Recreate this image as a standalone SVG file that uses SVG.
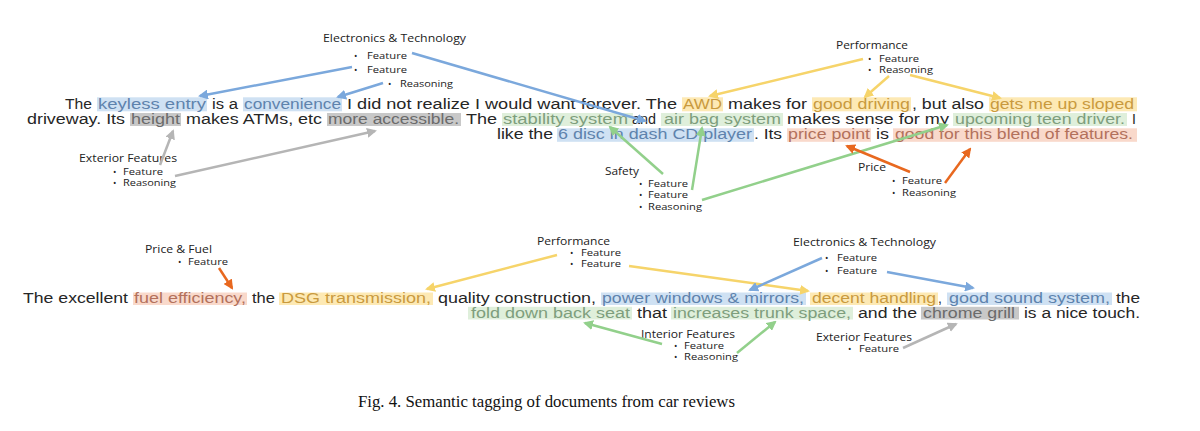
<svg xmlns="http://www.w3.org/2000/svg" width="1200" height="431" viewBox="0 0 1200 431">
<style>
.t{font-family:"Liberation Sans",Arial,sans-serif;font-size:14px;fill:#262626}
.tb{fill:#5e83ad}.tg{fill:#6b6b6b}.ty{fill:#c99a3e}.tn{fill:#7e9e7d}.ts{fill:#b3715c}
.hb{fill:#cfe1f3}.hg{fill:#c8c8c8}.hy{fill:#fde9b4}.hn{fill:#dfefdb}.hs{fill:#f9d9cb}
.lt{font-family:"Open Sans","Noto Sans",sans-serif;font-size:10.5px;fill:#222}
.li{font-family:"Open Sans","Noto Sans",sans-serif;font-size:9px;fill:#222}
.c{fill:none;stroke-width:2.5}
.cb{stroke:#7ba8dc}.cg{stroke:#b5b5b5}.cy{stroke:#f6d46a}.cn{stroke:#92d08b}.co{stroke:#e8681f}
.cap{font-family:"Liberation Serif","Times New Roman",serif;font-size:16px;fill:#111}
</style>
<defs>
<marker id="mb" viewBox="0 0 10 10" refX="8" refY="5" markerWidth="4" markerHeight="4" orient="auto"><path d="M0,0L10,5L0,10z" fill="#7ba8dc"/></marker>
<marker id="mg" viewBox="0 0 10 10" refX="8" refY="5" markerWidth="4" markerHeight="4" orient="auto"><path d="M0,0L10,5L0,10z" fill="#b5b5b5"/></marker>
<marker id="my" viewBox="0 0 10 10" refX="8" refY="5" markerWidth="4" markerHeight="4" orient="auto"><path d="M0,0L10,5L0,10z" fill="#f6d46a"/></marker>
<marker id="mn" viewBox="0 0 10 10" refX="8" refY="5" markerWidth="4" markerHeight="4" orient="auto"><path d="M0,0L10,5L0,10z" fill="#92d08b"/></marker>
<marker id="mo" viewBox="0 0 10 10" refX="8" refY="5" markerWidth="4" markerHeight="4" orient="auto"><path d="M0,0L10,5L0,10z" fill="#e8681f"/></marker>
</defs>
<rect width="1200" height="431" fill="#fff"/>

<g id="review-1">
<rect class="hb" x="97" y="97.3" width="110" height="14"/>
<rect class="hb" x="243" y="97.3" width="99" height="14"/>
<rect class="hy" x="682" y="97.3" width="41" height="14"/>
<rect class="hy" x="812" y="97.3" width="99" height="14"/>
<rect class="hy" x="989" y="97.3" width="148" height="14"/>
<rect class="hg" x="130" y="113" width="51" height="13"/>
<rect class="hg" x="327" y="113" width="134" height="13"/>
<rect class="hn" x="502" y="113" width="131" height="13"/>
<rect class="hn" x="661" y="113" width="122" height="13"/>
<rect class="hn" x="953" y="113" width="174" height="13"/>
<rect class="hb" x="557" y="128.3" width="197" height="13.5"/>
<rect class="hs" x="787" y="128.3" width="84" height="13.5"/>
<rect class="hs" x="893" y="128.3" width="244" height="13.5"/>
<text class="t" x="65" y="108.7" textLength="27" lengthAdjust="spacingAndGlyphs">The</text>
<text class="t tb" x="98" y="108.7" textLength="108" lengthAdjust="spacingAndGlyphs">keyless entry</text>
<text class="t" x="212" y="108.7" textLength="26" lengthAdjust="spacingAndGlyphs">is a</text>
<text class="t tb" x="244" y="108.7" textLength="97" lengthAdjust="spacingAndGlyphs">convenience</text>
<text class="t" x="347" y="108.7" textLength="330" lengthAdjust="spacingAndGlyphs">I did not realize I would want forever. The</text>
<text class="t ty" x="683" y="108.7" textLength="39" lengthAdjust="spacingAndGlyphs">AWD</text>
<text class="t" x="728" y="108.7" textLength="79" lengthAdjust="spacingAndGlyphs">makes for</text>
<text class="t ty" x="813" y="108.7" textLength="97" lengthAdjust="spacingAndGlyphs">good driving</text>
<text class="t" x="912" y="108.7" textLength="72" lengthAdjust="spacingAndGlyphs">, but also</text>
<text class="t ty" x="990" y="108.7" textLength="144" lengthAdjust="spacingAndGlyphs">gets me up sloped</text>
<text class="t" x="27" y="124" textLength="98" lengthAdjust="spacingAndGlyphs">driveway. Its</text>
<text class="t tg" x="131" y="124" textLength="49" lengthAdjust="spacingAndGlyphs">height</text>
<text class="t" x="186" y="124" textLength="136" lengthAdjust="spacingAndGlyphs">makes ATMs, etc</text>
<text class="t tg" x="328" y="124" textLength="131" lengthAdjust="spacingAndGlyphs">more accessible.</text>
<text class="t" x="466" y="124" textLength="31" lengthAdjust="spacingAndGlyphs">The</text>
<text class="t tn" x="503" y="124" textLength="125" lengthAdjust="spacingAndGlyphs">stability system</text>
<text class="t" x="632" y="124" textLength="24" lengthAdjust="spacingAndGlyphs">and</text>
<text class="t tn" x="664" y="124" textLength="117" lengthAdjust="spacingAndGlyphs">air bag system</text>
<text class="t" x="787" y="124" textLength="162" lengthAdjust="spacingAndGlyphs">makes sense for my</text>
<text class="t tn" x="955" y="124" textLength="170" lengthAdjust="spacingAndGlyphs">upcoming teen driver.</text>
<text class="t" x="1132" y="124">I</text>
<text class="t" x="497" y="139.3" textLength="56" lengthAdjust="spacingAndGlyphs">like the</text>
<text class="t tb" x="558" y="139.3" textLength="194" lengthAdjust="spacingAndGlyphs">6 disc in dash CD player</text>
<text class="t" x="754" y="139.3" textLength="28" lengthAdjust="spacingAndGlyphs">. Its</text>
<text class="t ts" x="788" y="139.3" textLength="82" lengthAdjust="spacingAndGlyphs">price point</text>
<text class="t" x="876" y="139.3" textLength="13" lengthAdjust="spacingAndGlyphs">is</text>
<text class="t ts" x="895" y="139.3" textLength="238" lengthAdjust="spacingAndGlyphs">good for this blend of features.</text>
</g>

<g id="review-2">
<rect class="hs" x="133" y="292.5" width="114" height="12.5"/>
<rect class="hy" x="279" y="292.5" width="154" height="12.5"/>
<rect class="hb" x="601" y="292.5" width="205" height="12.5"/>
<rect class="hy" x="810" y="292.5" width="128" height="12.5"/>
<rect class="hb" x="947" y="292.5" width="165" height="12.5"/>
<rect class="hn" x="468" y="306.8" width="164" height="12.7"/>
<rect class="hn" x="671" y="306.8" width="182" height="12.7"/>
<rect class="hg" x="921" y="306.8" width="98" height="12.7"/>
<text class="t" x="23" y="302.7" textLength="105" lengthAdjust="spacingAndGlyphs">The excellent</text>
<text class="t ts" x="134" y="302.7" textLength="112" lengthAdjust="spacingAndGlyphs">fuel efficiency,</text>
<text class="t" x="252" y="302.7" textLength="23" lengthAdjust="spacingAndGlyphs">the</text>
<text class="t ty" x="281" y="302.7" textLength="150" lengthAdjust="spacingAndGlyphs">DSG transmission,</text>
<text class="t" x="438" y="302.7" textLength="158" lengthAdjust="spacingAndGlyphs">quality construction,</text>
<text class="t tb" x="602" y="302.7" textLength="202" lengthAdjust="spacingAndGlyphs">power windows &amp; mirrors,</text>
<text class="t ty" x="812" y="302.7" textLength="124" lengthAdjust="spacingAndGlyphs">decent handling</text>
<text class="t" x="938" y="302.7">,</text>
<text class="t tb" x="949" y="302.7" textLength="161" lengthAdjust="spacingAndGlyphs">good sound system,</text>
<text class="t" x="1116" y="302.7" textLength="24" lengthAdjust="spacingAndGlyphs">the</text>
<text class="t tn" x="471" y="317.7" textLength="159" lengthAdjust="spacingAndGlyphs">fold down back seat</text>
<text class="t" x="637" y="317.7" textLength="30" lengthAdjust="spacingAndGlyphs">that</text>
<text class="t tn" x="673" y="317.7" textLength="178" lengthAdjust="spacingAndGlyphs">increases trunk space,</text>
<text class="t" x="858" y="317.7" textLength="59" lengthAdjust="spacingAndGlyphs">and the</text>
<text class="t tg" x="923" y="317.7" textLength="92" lengthAdjust="spacingAndGlyphs">chrome grill</text>
<text class="t" x="1024" y="317.7" textLength="116" lengthAdjust="spacingAndGlyphs">is a nice touch.</text>
</g>

<g id="electronics-top">
<text class="lt" x="323" y="42" textLength="143" lengthAdjust="spacingAndGlyphs">Electronics &amp; Technology</text>
<text class="li" x="354" y="58.5">•</text><text class="li" x="367" y="58.5" textLength="40" lengthAdjust="spacingAndGlyphs">Feature</text>
<text class="li" x="354" y="72.5">•</text><text class="li" x="367" y="72.5" textLength="40" lengthAdjust="spacingAndGlyphs">Feature</text>
<text class="li" x="388" y="86.5">•</text><text class="li" x="400" y="86.5" textLength="53" lengthAdjust="spacingAndGlyphs">Reasoning</text>
</g>
<g id="exterior-top">
<text class="lt" x="79" y="162" textLength="98" lengthAdjust="spacingAndGlyphs">Exterior Features</text>
<text class="li" x="113" y="174.5">•</text><text class="li" x="123" y="174.5" textLength="40" lengthAdjust="spacingAndGlyphs">Feature</text>
<text class="li" x="113" y="186">•</text><text class="li" x="123" y="186" textLength="53" lengthAdjust="spacingAndGlyphs">Reasoning</text>
</g>
<g id="performance-top">
<text class="lt" x="836" y="49" textLength="72" lengthAdjust="spacingAndGlyphs">Performance</text>
<text class="li" x="868" y="61.5">•</text><text class="li" x="879" y="61.5" textLength="40" lengthAdjust="spacingAndGlyphs">Feature</text>
<text class="li" x="868" y="73">•</text><text class="li" x="879" y="73" textLength="54" lengthAdjust="spacingAndGlyphs">Reasoning</text>
</g>
<g id="safety">
<text class="lt" x="605" y="175" textLength="34" lengthAdjust="spacingAndGlyphs">Safety</text>
<text class="li" x="639" y="186.5">•</text><text class="li" x="648" y="186.5" textLength="40" lengthAdjust="spacingAndGlyphs">Feature</text>
<text class="li" x="639" y="198">•</text><text class="li" x="648" y="198" textLength="40" lengthAdjust="spacingAndGlyphs">Feature</text>
<text class="li" x="639" y="209.5">•</text><text class="li" x="648" y="209.5" textLength="54" lengthAdjust="spacingAndGlyphs">Reasoning</text>
</g>
<g id="price">
<text class="lt" x="858" y="171" textLength="28" lengthAdjust="spacingAndGlyphs">Price</text>
<text class="li" x="892" y="183.5">•</text><text class="li" x="902" y="183.5" textLength="40" lengthAdjust="spacingAndGlyphs">Feature</text>
<text class="li" x="892" y="195.5">•</text><text class="li" x="902" y="195.5" textLength="54" lengthAdjust="spacingAndGlyphs">Reasoning</text>
</g>
<g id="price-fuel">
<text class="lt" x="145" y="253" textLength="67" lengthAdjust="spacingAndGlyphs">Price &amp; Fuel</text>
<text class="li" x="178" y="264.5">•</text><text class="li" x="188" y="264.5" textLength="40" lengthAdjust="spacingAndGlyphs">Feature</text>
</g>
<g id="performance-bottom">
<text class="lt" x="537" y="244.5" textLength="73" lengthAdjust="spacingAndGlyphs">Performance</text>
<text class="li" x="570" y="255.5">•</text><text class="li" x="581" y="255.5" textLength="40" lengthAdjust="spacingAndGlyphs">Feature</text>
<text class="li" x="570" y="267">•</text><text class="li" x="581" y="267" textLength="40" lengthAdjust="spacingAndGlyphs">Feature</text>
</g>
<g id="electronics-bottom">
<text class="lt" x="793" y="246" textLength="143" lengthAdjust="spacingAndGlyphs">Electronics &amp; Technology</text>
<text class="li" x="825" y="260.5">•</text><text class="li" x="837" y="260.5" textLength="40" lengthAdjust="spacingAndGlyphs">Feature</text>
<text class="li" x="825" y="273.5">•</text><text class="li" x="837" y="273.5" textLength="40" lengthAdjust="spacingAndGlyphs">Feature</text>
</g>
<g id="interior">
<text class="lt" x="641" y="337.5" textLength="94" lengthAdjust="spacingAndGlyphs">Interior Features</text>
<text class="li" x="674" y="348.5">•</text><text class="li" x="684" y="348.5" textLength="40" lengthAdjust="spacingAndGlyphs">Feature</text>
<text class="li" x="674" y="360">•</text><text class="li" x="684" y="360" textLength="54" lengthAdjust="spacingAndGlyphs">Reasoning</text>
</g>
<g id="exterior-bottom">
<text class="lt" x="816" y="340.5" textLength="96" lengthAdjust="spacingAndGlyphs">Exterior Features</text>
<text class="li" x="848" y="351.5">•</text><text class="li" x="859" y="351.5" textLength="40" lengthAdjust="spacingAndGlyphs">Feature</text>
</g>

<g id="connectors">
<line class="c cb" x1="352" y1="67" x2="200" y2="96" marker-end="url(#mb)"/>
<line class="c cb" x1="383" y1="83" x2="338" y2="97" marker-end="url(#mb)"/>
<line class="c cb" x1="412" y1="53" x2="645" y2="121" marker-end="url(#mb)"/>
<line class="c cg" x1="160" y1="165" x2="173" y2="131" marker-end="url(#mg)"/>
<line class="c cg" x1="175" y1="176" x2="375" y2="131" marker-end="url(#mg)"/>
<line class="c cy" x1="863" y1="59" x2="710" y2="96" marker-end="url(#my)"/>
<line class="c cy" x1="889" y1="76" x2="865" y2="97" marker-end="url(#my)"/>
<line class="c cy" x1="910" y1="75" x2="1000" y2="98" marker-end="url(#my)"/>
<line class="c cn" x1="663" y1="174" x2="610" y2="127" marker-end="url(#mn)"/>
<line class="c cn" x1="692" y1="190" x2="702" y2="128" marker-end="url(#mn)"/>
<line class="c cn" x1="702" y1="200" x2="947" y2="125" marker-end="url(#mn)"/>
<line class="c co" x1="910" y1="172" x2="847" y2="146" marker-end="url(#mo)"/>
<line class="c co" x1="945" y1="183" x2="970" y2="149" marker-end="url(#mo)"/>
<line class="c co" x1="219" y1="268" x2="232" y2="288" marker-end="url(#mo)"/>
<line class="c cy" x1="557" y1="255" x2="427" y2="289" marker-end="url(#my)"/>
<line class="c cy" x1="629" y1="266" x2="808" y2="291" marker-end="url(#my)"/>
<line class="c cb" x1="822" y1="258" x2="750" y2="290" marker-end="url(#mb)"/>
<line class="c cb" x1="887" y1="272" x2="973" y2="288" marker-end="url(#mb)"/>
<line class="c cn" x1="662" y1="344" x2="585" y2="323" marker-end="url(#mn)"/>
<line class="c cn" x1="737" y1="353" x2="775" y2="322" marker-end="url(#mn)"/>
<line class="c cg" x1="903" y1="348" x2="956" y2="324" marker-end="url(#mg)"/>
</g>

<text class="cap" x="358" y="407" textLength="377" lengthAdjust="spacingAndGlyphs">Fig. 4. Semantic tagging of documents from car reviews</text>
</svg>
